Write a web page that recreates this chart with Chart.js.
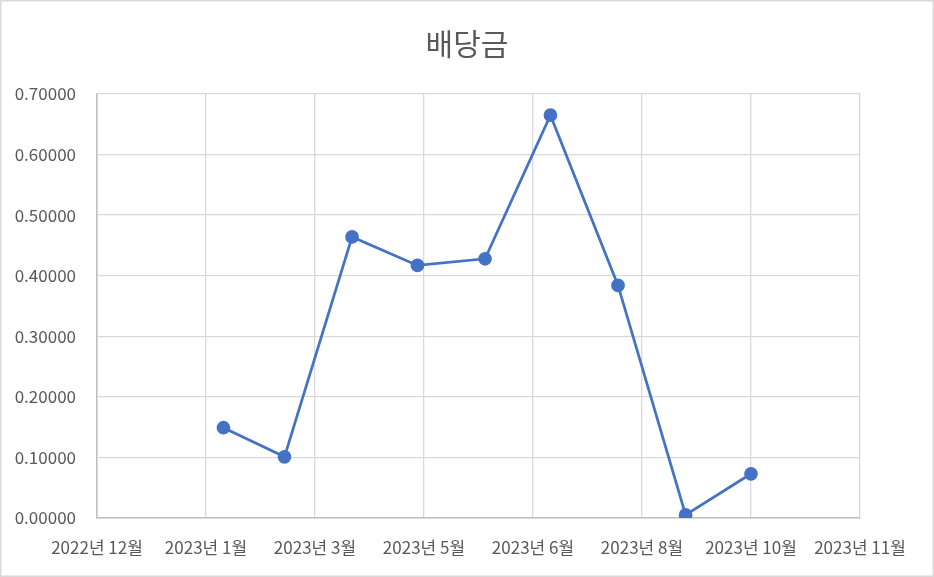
<!DOCTYPE html>
<html>
<head>
<meta charset="utf-8">
<script src="https://cdn.jsdelivr.net/npm/chart.js@4/dist/chart.umd.min.js"></script>
<style>
  html, body { margin: 0; padding: 0; background: #fff; }
  #wrap { width: 934px; height: 577px; }
</style>
</head>
<body>
<div id="wrap"><canvas id="divChart" width="934" height="577"></canvas></div>
<script>
// dividend payout per month
const payDates = ['2023-02-06', '2023-03-06', '2023-04-06', '2023-05-06', '2023-06-06',
                  '2023-07-06', '2023-08-06', '2023-09-06', '2023-10-06'];
const dividends = [0.149, 0.101, 0.464, 0.417, 0.428, 0.665, 0.384, 0.005, 0.073];

// date axis: starts here, one tick every 50 days
const axisStart = '2022-12-10';
const axisStepDays = 50;
const axisSteps = 7;
const yTicks = [0, 0.1, 0.2, 0.3, 0.4, 0.5, 0.6, 0.7];

const DAY = 86400000;
const startMs = Date.parse(axisStart);
const toDay = s => (Date.parse(s) - startMs) / DAY;
const points = payDates.map((d, i) => ({ x: toDay(d), y: dividends[i] }));

const fontFamily = "'Noto Sans CJK KR', 'Noto Sans', sans-serif";
const textColor = '#595959';

// light frame round the whole chart
const framePlugin = {
  id: 'frame',
  beforeDraw(chart) {
    const c = chart.ctx;
    c.save();
    c.fillStyle = '#fff';
    c.fillRect(0, 0, chart.width, chart.height);
    c.strokeStyle = '#d9d9d9';
    c.lineWidth = 1.5;
    c.strokeRect(0.75, 0.75, chart.width - 1.5, chart.height - 1.5);
    c.restore();
  }
};

const ctx = document.getElementById('divChart').getContext('2d');
const divChart = new Chart(ctx, {
  type: 'line',
  data: {
    datasets: [{
      label: '배당금',
      data: points,
      borderColor: '#4472c4',
      backgroundColor: '#4472c4',
      borderWidth: 2.75,
      pointRadius: 5.5,
      pointHoverRadius: 5.5,
      fill: false,
      tension: 0
    }]
  },
  options: {
    responsive: false,
    animation: false,
    devicePixelRatio: 1,
    layout: { padding: 0 },
    plugins: {
      legend: { display: false },
      tooltip: { enabled: false },
      title: {
        display: true,
        text: '배당금',
        color: textColor,
        font: { family: fontFamily, size: 30, weight: 'normal', lineHeight: 1.2 },
        padding: { top: 26, bottom: 32 }
      }
    },
    scales: {
      x: {
        type: 'linear',
        min: 0,
        max: axisStepDays * axisSteps,
        afterFit(scale) { scale.height = 59; },
        ticks: {
          stepSize: axisStepDays,
          color: textColor,
          maxRotation: 0,
          autoSkip: false,
          padding: 19,
          font: { family: fontFamily, size: 17 },
          callback(v) {
            const d = new Date(startMs + v * DAY);
            return d.getUTCFullYear() + '년 ' + (d.getUTCMonth() + 1) + '월';
          }
        },
        grid: { color: '#d9d9d9', lineWidth: 1.3, drawTicks: false },
        border: { color: '#bfbfbf', width: 1.5 }
      },
      y: {
        min: yTicks[0],
        max: yTicks[yTicks.length - 1],
        afterFit(scale) { scale.width = 97; },
        afterBuildTicks(scale) { scale.ticks = yTicks.map(v => ({ value: v })); },
        ticks: {
          color: textColor,
          padding: 21,
          font: { family: fontFamily, size: 17 },
          callback: v => Number(v).toFixed(5)
        },
        grid: { color: '#d9d9d9', lineWidth: 1.3, drawTicks: false },
        border: { color: '#bfbfbf', width: 1.5 }
      },
      // empty right margin so the title centres on the whole chart
      yPad: {
        position: 'right',
        min: 0,
        max: 1,
        afterFit(scale) { scale.width = 74; },
        ticks: { display: false },
        grid: { display: false, drawTicks: false },
        border: { display: false }
      }
    }
  },
  plugins: [framePlugin]
});
</script>
</body>
</html>
